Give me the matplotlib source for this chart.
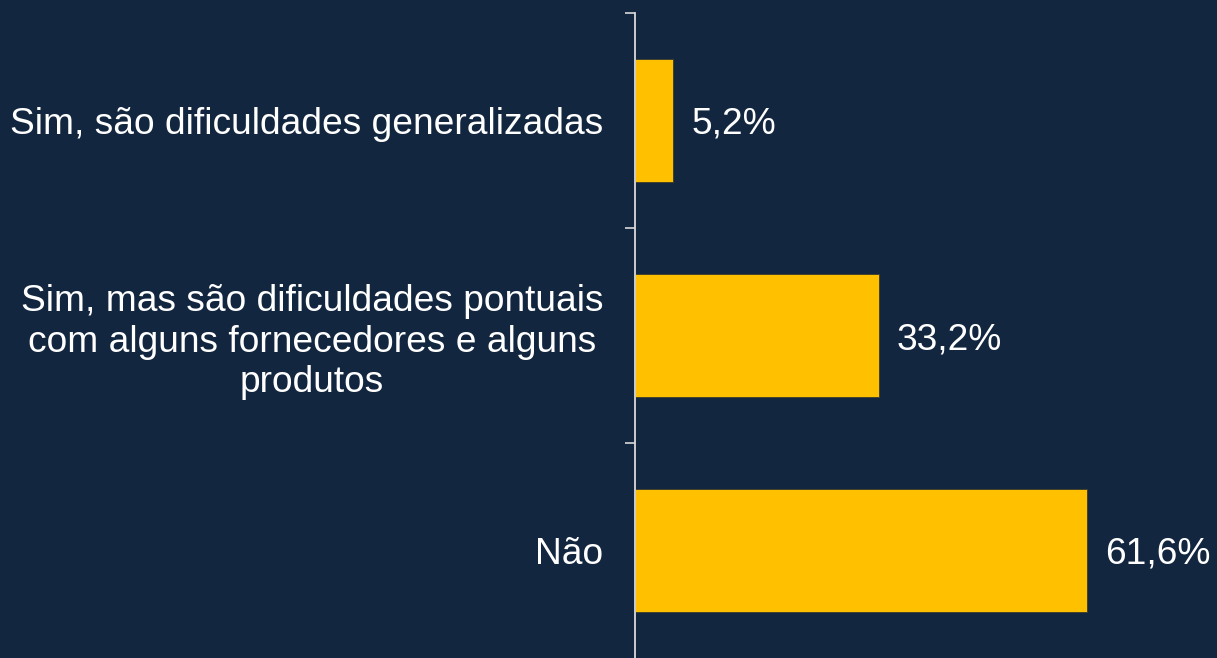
import matplotlib.pyplot as plt

# dados do gráfico
categorias = ['Sim, são dificuldades generalizadas',
              'Sim, mas são dificuldades pontuais\ncom alguns fornecedores e alguns\nprodutos',
              'Não']
valores = [5.2, 33.2, 61.6]
rotulos = ['5,2%', '33,2%', '61,6%']

fundo = '#12263F'
amarelo = '#FFC000'
eixo_cor = '#D9D9D9'

plt.rcParams['font.family'] = ['Liberation Sans', 'DejaVu Sans']

fig = plt.figure(figsize=(12.17, 6.58), dpi=100, facecolor=fundo)
ax = fig.add_axes([635 / 1217, 0, (1217 - 635) / 1217, 645 / 658])
ax.set_facecolor(fundo)

pos = list(range(len(categorias)))
bars = ax.barh(pos, valores, height=0.575, color=amarelo,
               edgecolor='#3a3a2a', linewidth=0.6)

ax.set_ylim(len(categorias) - 0.5, -0.5)
ax.set_xlim(0, (1217 - 635) / 7.34)

# rótulos de valor
for b, txt in zip(bars, rotulos):
    ax.text(b.get_width() + 2.5, b.get_y() + b.get_height() / 2, txt,
            ha='left', va='center_baseline', color='white', fontsize=26.7)

# eixo y com marcas entre as categorias
ax.set_yticks(pos)
ax.set_yticklabels(categorias, fontsize=26.7, color='white',
                   multialignment='center', linespacing=1.2)
ax.set_yticks([p - 0.5 for p in pos], minor=True)
ax.tick_params(axis='y', which='major', length=0, pad=23)
ax.tick_params(axis='y', which='minor', length=7.5, width=1.2, color=eixo_cor)
ax.set_xticks([])

for s in ['top', 'right', 'bottom']:
    ax.spines[s].set_visible(False)
ax.spines['left'].set_color(eixo_cor)
ax.spines['left'].set_linewidth(1.3)

plt.savefig('out.png', dpi=100, facecolor=fundo)
